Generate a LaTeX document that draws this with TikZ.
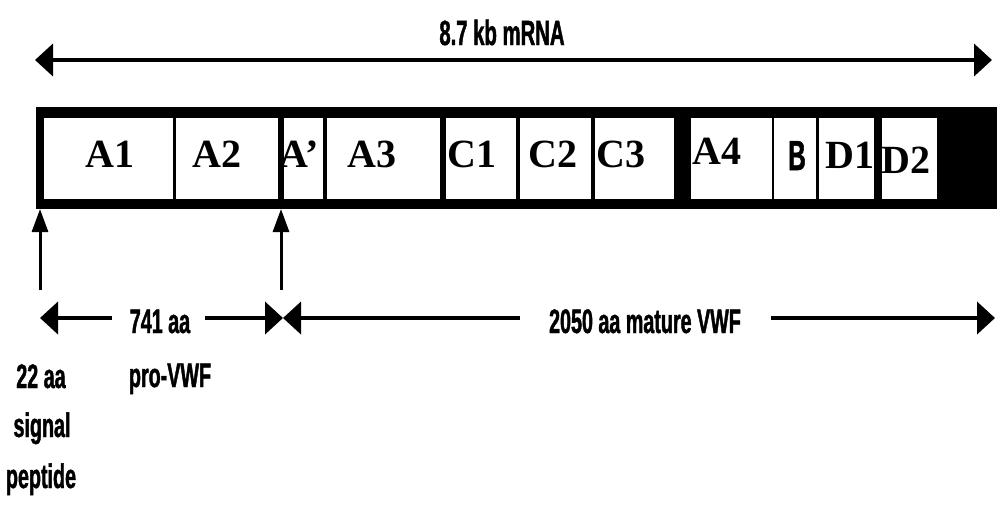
\documentclass[tikz,border=0pt]{standalone}
\usepackage{fontspec}
\setmainfont{Liberation Serif}
\newfontfamily\condfont[FakeStretch=0.58,FakeBold=1.2]{Liberation Sans}
\usetikzlibrary{arrows.meta}
\begin{document}
\begin{tikzpicture}[x=1pt,y=-1pt,
  >={Triangle[length=18pt,width=32pt]},
  seg/.style={fill=white, draw=none, inner sep=0pt, outer sep=0pt, anchor=north west, minimum height=81pt},
  dom/.style={font=\fontsize{40}{40}\selectfont\bfseries, anchor=base, inner sep=0pt},
  lab/.style={font=\condfont\bfseries\fontsize{34}{34}\selectfont, anchor=base, inner sep=0pt},
  big/.style={line width=4pt},
  vert/.style={line width=3pt, -{Triangle[length=23pt,width=16pt]}}]
\useasboundingbox (0,0) rectangle (998,507);
% mRNA span
\coordinate (tl) at (35,60);
\coordinate (tr) at (992,60);
\draw[big,<->] (tl) -- (tr);
\node[lab, font=\condfont\bfseries\fontsize{35}{35}\selectfont] (mrna) at (502,45) {8.7 kb mRNA};
% bar
\node[fill=black, inner sep=0pt, outer sep=0pt, anchor=north west, minimum width=961pt, minimum height=102pt] (bar) at (36,107) {};
\node[seg, minimum width=129pt] (bA1) at (44,118) {};
\node[seg, minimum width=102pt] (bA2) at (176,118) {};
\node[seg, minimum width=39pt] (bAp) at (284,118) {};
\node[seg, minimum width=113pt] (bA3) at (327,118) {};
\node[seg, minimum width=70pt] (bC1) at (446,118) {};
\node[seg, minimum width=71pt] (bC2) at (520,118) {};
\node[seg, minimum width=79pt] (bC3) at (595,118) {};
\node[seg, minimum width=81pt] (bA4) at (691,118) {};
\node[seg, minimum width=42pt] (bB) at (774,118) {};
\node[seg, minimum width=55pt] (bD1) at (819,118) {};
\node[seg, minimum width=55pt] (bD2) at (882,118) {};
% domain labels
\node[dom] (lA1) at (110,167) {A1};
\node[dom] (lA2) at (217,167) {A2};
\node[dom] (lAp) at (299,167) {A’};
\node[dom] (lA3) at (372,167) {A3};
\node[dom] (lC1) at (472,167) {C1};
\node[dom] (lC2) at (553,167) {C2};
\node[dom] (lC3) at (621,167) {C3};
\node[dom] (lA4) at (717,164) {A4};
\node[lab, font=\condfont\bfseries\fontsize{42}{42}\selectfont] (lB) at (797,170) {B};
\node[dom] (lD1) at (850,168) {D1};
\node[dom] (lD2) at (906,173) {D2};
% cleavage arrows
\coordinate (v1) at (40,290);
\coordinate (v2) at (281,290);
\draw[vert] (v1) -- (v1 |- bar.south);
\draw[vert] (v2) -- (v2 |- bar.south);
% lower spans
\coordinate (s1) at (40,318);
\coordinate (e1) at (112,318);
\coordinate (e2) at (205,318);
\coordinate (mid) at (283,318);
\coordinate (e3) at (520,318);
\coordinate (e4) at (771,318);
\coordinate (s4) at (995,318);
\draw[big,->] (e1) -- (s1);
\draw[big,->] (e2) -- (mid);
\draw[big,->] (e3) -- (mid);
\draw[big,->] (e4) -- (s4);
\node[lab] (t741) at (160,333) {741 aa};
\node[lab] (tmat) at (645,333) {2050 aa mature VWF};
\node[lab] (tpro) at (170,387) {pro-VWF};
\node[lab] (t22) at (41,388) {22 aa};
\node[lab] (tsig) at (42,437) {signal};
\node[lab] (tpep) at (41,488) {peptide};
\end{tikzpicture}
\end{document}
